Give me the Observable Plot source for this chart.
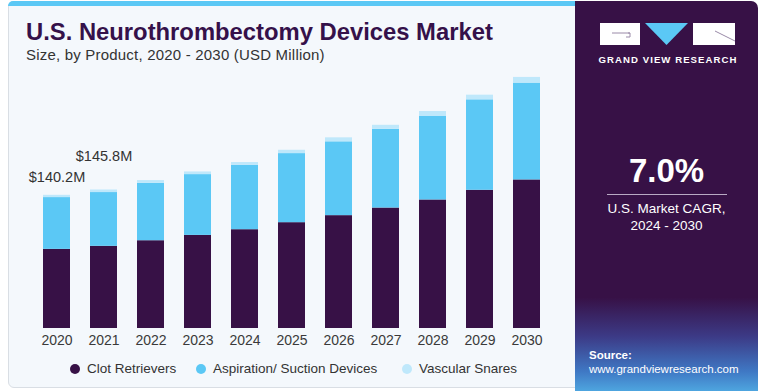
<!DOCTYPE html>
<html>
<head>
<meta charset="utf-8">
<script src="https://cdn.jsdelivr.net/npm/d3@7"></script>
<script src="https://cdn.jsdelivr.net/npm/@observablehq/plot@0.6"></script>
<style>
  html, body { margin: 0; padding: 0; background: #ffffff; }
  body { width: 765px; height: 391px; position: relative; overflow: hidden; font-family: "Liberation Sans", Arial, sans-serif; }
  #card { position: absolute; left: 8px; top: 1px; width: 748px; height: 387px; background: #f4f8fc; border: 1px solid #d9dee4; border-radius: 6px; box-sizing: border-box; overflow: hidden; }
  #stripe { position: absolute; left: 8px; top: 1px; width: 568px; height: 5px; background: #5bc8f5; border-top-left-radius: 6px; }
  #panel { position: absolute; left: 575px; top: 1px; width: 183px; height: 390px; border-top-right-radius: 7px;
    background: linear-gradient(to bottom, #371146 0%, #371146 76%, #3c3a86 86%, #3f78c4 95%, #4ea5df 100%); }
  #title { position: absolute; left: 26px; top: 18px; font-weight: bold; font-size: 23.8px; color: #35114a; white-space: nowrap; }
  #subtitle { position: absolute; left: 26px; top: 46px; font-size: 15px; letter-spacing: 0.2px; color: #333; white-space: nowrap; }
  #chart { position: absolute; left: 0; top: 0; }
  #legend { position: absolute; top: 360px; left: 0; height: 18px; font-size: 13.5px; color: #333; }
  .item { position: absolute; top: 0; white-space: nowrap; line-height: 18px; }
  .dot { display: inline-block; width: 10px; height: 10px; border-radius: 50%; position: absolute; top: 4px; }
  .lab { position: absolute; left: 12px; top: 0; }
  #cagr { position: absolute; left: 575px; width: 183px; top: 152px; text-align: center; color: #fff; font-weight: bold; font-size: 33px; }
  #rule { position: absolute; left: 607px; top: 194px; width: 120px; height: 1px; background: #b9aac4; }
  #cagrtxt { position: absolute; left: 575px; width: 183px; top: 200px; text-align: center; color: #fff; font-size: 13.5px; line-height: 17px; }
  #src { position: absolute; left: 589px; top: 348px; color: #fff; font-size: 11.5px; line-height: 14px; }
  #logo { position: absolute; left: 598px; top: 21px; }
</style>
</head>
<body>
<div id="card"></div>
<div id="stripe"></div>
<div id="panel"></div>
<div id="title">U.S. Neurothrombectomy Devices Market</div>
<div id="subtitle">Size, by Product, 2020 - 2030 (USD Million)</div>
<div id="chart"></div>
<div id="legend"></div>
<svg id="logo" width="140" height="48">
  <rect x="2" y="2" width="40" height="22" fill="#ffffff"/>
  <path d="M30 12 L32 12 L32 16 L28 16" stroke="#9a8aa8" fill="none" stroke-width="1"/>
  <line x1="14" y1="12" x2="32" y2="12" stroke="#9a8aa8" stroke-width="1"/>
  <polygon points="47,2 90,2 68.5,24" fill="#5bc8f5"/>
  <rect x="95" y="2" width="42" height="22" fill="#ffffff"/>
  <line x1="117" y1="10" x2="137" y2="20" stroke="#9a8aa8" stroke-width="1"/>
  <text x="70" y="42" text-anchor="middle" fill="#ffffff" font-size="9.6" font-weight="bold" letter-spacing="1.05" font-family="Liberation Sans, Arial, sans-serif">GRAND VIEW RESEARCH</text>
</svg>
<div id="cagr">7.0%</div>
<div id="rule"></div>
<div id="cagrtxt">U.S. Market CAGR,<br>2024 - 2030</div>
<div id="src"><b>Source:</b><br>www.grandviewresearch.com</div>
<script>
const years = [2020, 2021, 2022, 2023, 2024, 2025, 2026, 2027, 2028, 2029, 2030];
const clotRetrievers = [83.3, 86.5, 92.4, 98.0, 104.0, 111.4, 118.8, 126.8, 135.3, 145.5, 156.4];
const aspirationDevices = [54.5, 56.6, 60.4, 64.0, 67.8, 72.7, 77.7, 82.9, 88.2, 95.2, 101.9];
const vascularSnares = [2.4, 2.7, 2.9, 2.8, 2.9, 3.5, 4.2, 4.2, 4.9, 4.9, 6.0];
const seriesNames = ["Clot Retrievers", "Aspiration/ Suction Devices", "Vascular Snares"];
const seriesColors = ["#371146", "#5bc8f5", "#bfe8fb"];
const labelYears = [2020, 2021];
const labelTexts = ["$140.2M", "$145.8M"];

const seriesValues = [clotRetrievers, aspirationDevices, vascularSnares];
const rows = [];
seriesNames.forEach((s, i) => {
  years.forEach((y, j) => rows.push({year: y, series: s, value: seriesValues[i][j]}));
});
const totals = years.map((y, j) => clotRetrievers[j] + aspirationDevices[j] + vascularSnares[j]);
const labelRows = labelYears.map((y, i) => ({year: y, text: labelTexts[i], total: totals[years.indexOf(y)]}));

const chart = Plot.plot({
  width: 577,
  height: 391,
  marginLeft: 41,
  marginRight: 36,
  marginTop: 43,
  marginBottom: 63,
  style: {background: "transparent", fontFamily: "Liberation Sans, Arial, sans-serif", overflow: "visible"},
  x: {domain: years, paddingInner: 0.4286, paddingOuter: 0, label: null},
  y: {domain: [0, 300], axis: null},
  color: {domain: seriesNames, range: seriesColors},
  marks: [
    Plot.barY(rows, {x: "year", y: "value", fill: "series", order: seriesNames}),
    Plot.axisX({tickSize: 0, tickPadding: 6.5, fontSize: 14, tickFormat: d => String(d), fill: "#3a3a3a", label: null}),
    Plot.text([labelRows[0]], {x: "year", y: "total", text: "text", dy: -18, fontSize: 14.5, fill: "#333", lineAnchor: "middle"}),
    Plot.text([labelRows[1]], {x: "year", y: "total", text: "text", dy: -34, fontSize: 14.5, fill: "#333", lineAnchor: "middle"})
  ]
});
document.getElementById("chart").appendChild(chart);

const legendX = [70, 196, 402];
const legend = document.getElementById("legend");
seriesNames.forEach((s, i) => {
  const item = document.createElement("div");
  item.className = "item";
  item.style.left = legendX[i] + "px";
  const dot = document.createElement("span");
  dot.className = "dot";
  dot.style.background = seriesColors[i];
  const lab = document.createElement("span");
  lab.className = "lab";
  lab.style.left = "17px";
  lab.textContent = s;
  item.appendChild(dot);
  item.appendChild(lab);
  legend.appendChild(item);
});
</script>
</body>
</html>
